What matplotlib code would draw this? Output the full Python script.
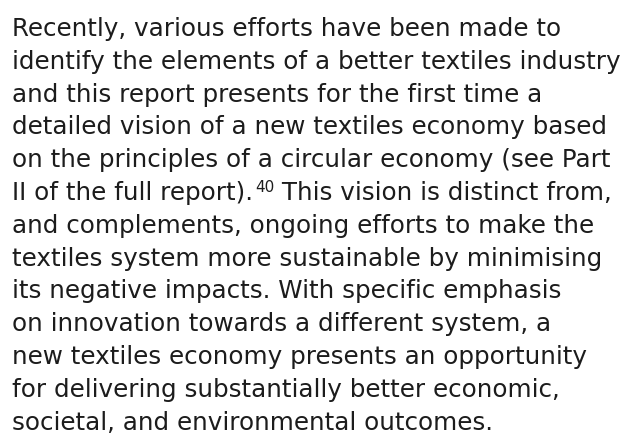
import matplotlib
matplotlib.use("Agg")
import matplotlib.pyplot as plt

# paragraph text, one entry per printed line
lines = [
    "Recently, various efforts have been made to",
    "identify the elements of a better textiles industry",
    "and this report presents for the first time a",
    "detailed vision of a new textiles economy based",
    "on the principles of a circular economy (see Part",
    "II of the full report).",
    "and complements, ongoing efforts to make the",
    "textiles system more sustainable by minimising",
    "its negative impacts. With specific emphasis",
    "on innovation towards a different system, a",
    "new textiles economy presents an opportunity",
    "for delivering substantially better economic,",
    "societal, and environmental outcomes.",
]
footnote = "40"
footnote_line = 5
after_note = " This vision is distinct from,"

W, H = 624, 439
fig = plt.figure(figsize=(W / 100, H / 100), dpi=100)
fig.patch.set_facecolor("white")

family = "DejaVu Sans"
x0 = 12
first_base = 36
pitch = 32.8

# fit font size so the longest line spans ~606 px like the original
probe = fig.text(0, 0, lines[1], family=family, fontsize=10)
fig.canvas.draw()
size = 10 * 606 / probe.get_window_extent().width
probe.remove()

font = dict(family=family, fontsize=size, color="#1c1c1c")

for i, line in enumerate(lines):
    y = 1 - (first_base + i * pitch) / H
    t = fig.text(x0 / W, y, line, va="baseline", ha="left", **font)
    if i == footnote_line:
        sup = fig.text(0, 0, footnote, fontsize=size * 0.62, color="#1c1c1c",
                       family=family, va="baseline", ha="left")
        fig.canvas.draw()
        bb = t.get_window_extent().transformed(fig.transFigure.inverted())
        sup.set_position((bb.x1 + 2 / W, y + 8 / H))
        fig.canvas.draw()
        sb = sup.get_window_extent().transformed(fig.transFigure.inverted())
        fig.text(sb.x1, y, after_note, va="baseline", ha="left", **font)

fig.savefig("out.png", dpi=100)
